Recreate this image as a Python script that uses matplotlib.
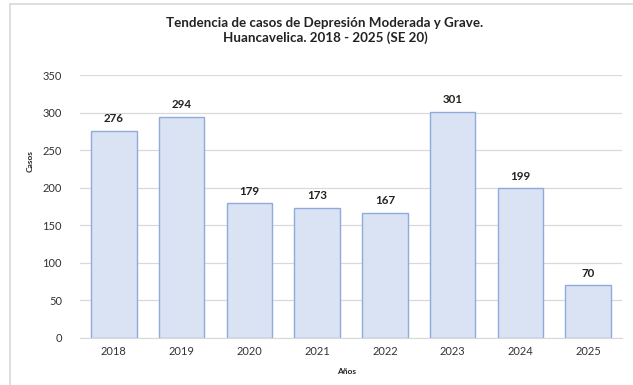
import matplotlib
matplotlib.use("Agg")
import matplotlib.pyplot as plt

years = ["2018", "2019", "2020", "2021", "2022", "2023", "2024", "2025"]
cases = [276, 294, 179, 173, 167, 301, 199, 70]
yticks = [0, 50, 100, 150, 200, 250, 300, 350]

plt.rcParams["font.family"] = ["Lato", "DejaVu Sans"]

fig = plt.figure(figsize=(6.33, 3.85), dpi=100)
fig.patch.set_facecolor("white")

# light outer frame (left and top edges)
fig.add_artist(plt.Line2D([10 / 633, 10 / 633], [0, 1 - 4 / 385],
                          transform=fig.transFigure, color="#D9D9D9", lw=1.2))
fig.add_artist(plt.Line2D([10 / 633, 1], [1 - 4 / 385, 1 - 4 / 385],
                          transform=fig.transFigure, color="#D9D9D9", lw=1.2))

ax = fig.add_axes([80 / 633, 1 - 338 / 385, 542 / 633, 263 / 385])
x = range(len(years))
ax.bar(x, cases, width=0.67, color="#DAE3F3", edgecolor="#8FAADC", linewidth=1.0, zorder=3)
for xi, v in zip(x, cases):
    ax.text(xi, v + 9, str(v), ha="center", va="bottom", fontsize=8.3,
            fontweight="bold", color="#222222")

ax.set_ylim(0, 350)
ax.set_xlim(-0.5, len(years) - 0.5)
ax.set_yticks(yticks)
ax.set_xticks(list(x))
ax.set_xticklabels(years)
ax.yaxis.grid(True, color="#D9D9D9", linewidth=0.9, zorder=0)
for s in ["top", "right", "left"]:
    ax.spines[s].set_visible(False)
ax.spines["bottom"].set_color("#D9D9D9")
ax.tick_params(axis="both", length=0, labelsize=8, colors="#333333")
ax.tick_params(axis="y", pad=13)
ax.tick_params(axis="x", pad=6)

fig.text(30 / 633, 1 - 161 / 385, "Casos", rotation=90, ha="center", va="center",
         fontsize=6, fontweight="bold", color="#222222")
fig.text(347 / 633, 1 - 371 / 385, "Años", ha="center", va="center",
         fontsize=6, fontweight="bold", color="#222222")
fig.text(325 / 633, 1 - 30.5 / 385,
         "Tendencia de casos de Depresión Moderada y Grave.\nHuancavelica. 2018 - 2025 (SE 20)",
         ha="center", va="center", fontsize=9.6, fontweight="bold", color="#222222",
         linespacing=1.15)

fig.savefig("out.png", dpi=100)
